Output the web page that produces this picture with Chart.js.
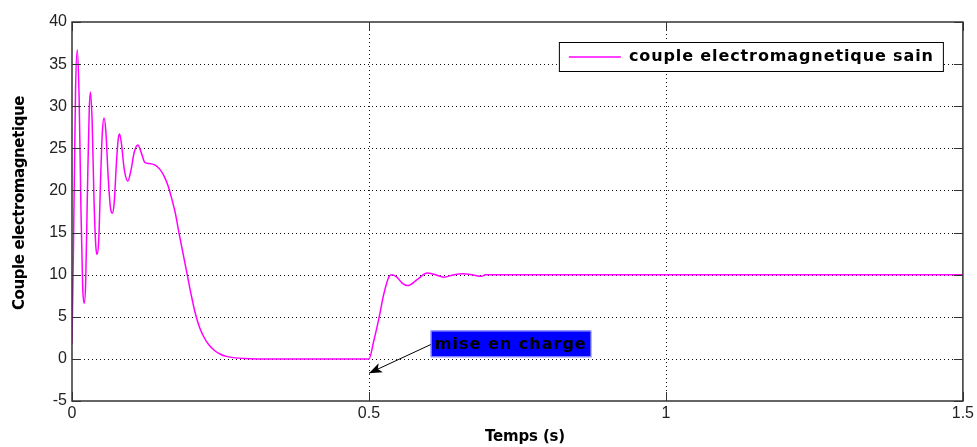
<!DOCTYPE html>
<html>
<head>
<meta charset="utf-8">
<script src="https://cdn.jsdelivr.net/npm/chart.js@4"></script>
<style>
  html, body { margin: 0; padding: 0; background: #fff; }
</style>
</head>
<body>
<canvas id="graficoCouple" width="977" height="447"></canvas>
<script>
// Données
const temps = [
  0, 0.0025, 0.006, 0.0089, 0.012, 0.015, 0.018, 0.0205, 0.023, 0.026, 0.029, 0.031,
  0.034, 0.037, 0.040, 0.042, 0.045, 0.048, 0.051, 0.054, 0.057, 0.061, 0.065, 0.068,
  0.071, 0.075, 0.078, 0.080, 0.083, 0.088, 0.094, 0.099, 0.105, 0.111, 0.117, 0.123,
  0.130, 0.140, 0.148, 0.155, 0.162, 0.168, 0.174, 0.180, 0.187, 0.194, 0.201, 0.208,
  0.215, 0.222, 0.230, 0.240, 0.250, 0.260, 0.275, 0.290, 0.310, 0.400, 0.500,
  0.508, 0.517, 0.525, 0.534, 0.539, 0.547, 0.556, 0.565, 0.581, 0.598, 0.612, 0.626,
  0.643, 0.659, 0.673, 0.690, 0.696, 0.800, 1.000, 1.200, 1.500
];
const couple = [
  1.8, 13.5, 32, 36.7, 31, 18, 8.5, 6.6, 9, 20, 29.5, 31.7,
  28, 19, 13.5, 12.4, 14, 21, 26.8, 28.6, 27, 21.5, 17.8, 17.3,
  18.5, 23.5, 26.2, 26.7, 25.7, 22.5, 21.1, 22.3, 24.6, 25.4, 24.4, 23.3,
  23.2, 23.0, 22.5, 21.7, 20.5, 19, 17.3, 15, 12.5, 10, 7.5, 5.3,
  3.7, 2.6, 1.7, 1.0, 0.55, 0.3, 0.12, 0.04, 0, 0, 0,
  2.1, 4.9, 7.7, 9.8, 10, 9.7, 9.0, 8.7, 9.4, 10.2, 10, 9.7,
  10, 10.1, 10, 9.8, 10, 10, 10, 10, 10
];
const ticksX = [0, 0.5, 1, 1.5];
const ticksY = [-5, 0, 5, 10, 15, 20, 25, 30, 35, 40];
const nomSerie = 'couple electromagnetique sain';
const titreX = 'Temps (s)';
const titreY = 'Couple electromagnetique';
const texteAnnot = 'mise en charge';
const annotPointe = [0.5, -1.7];
const annotDepart = [0.604, 1.7];

const police = '"Liberation Sans", Arial, sans-serif';
const policeGras = '"DejaVu Sans", sans-serif';
const magenta = '#ff00ff';

// texte ajusté pour atteindre une largeur donnée
function texteLarge(ctx, txt, x, y, largeur) {
  ctx.letterSpacing = '0px';
  const w = ctx.measureText(txt).width;
  ctx.letterSpacing = ((largeur - w) / txt.length) + 'px';
  ctx.fillText(txt, x, y);
  ctx.letterSpacing = '0px';
}

const cadreMatlab = {
  id: 'cadreMatlab',
  beforeDatasetsDraw(chart) {
    const { ctx, chartArea: a, scales: { x, y } } = chart;
    ctx.save();
    ctx.strokeStyle = '#111';
    ctx.lineWidth = 1;
    ctx.setLineDash([1, 3]);
    ticksX.forEach(v => {
      const px = Math.round(x.getPixelForValue(v)) + 0.5;
      if (px > a.left + 2 && px < a.right - 2) {
        ctx.beginPath(); ctx.moveTo(px, a.top); ctx.lineTo(px, a.bottom); ctx.stroke();
      }
    });
    ticksY.forEach(v => {
      const py = Math.round(y.getPixelForValue(v)) + 0.5;
      if (py > a.top + 2 && py < a.bottom - 2) {
        ctx.beginPath(); ctx.moveTo(a.left, py); ctx.lineTo(a.right, py); ctx.stroke();
      }
    });
    ctx.restore();
  },
  afterDraw(chart) {
    const { ctx, chartArea: a, scales: { x, y } } = chart;
    ctx.save();
    // cadre et graduations
    ctx.strokeStyle = '#333';
    ctx.lineWidth = 1.5;
    ctx.strokeRect(a.left, a.top, a.right - a.left, a.bottom - a.top);
    ctx.lineWidth = 1;
    const tl = 9;
    ticksX.forEach(v => {
      const px = Math.round(x.getPixelForValue(v)) + 0.5;
      ctx.beginPath();
      ctx.moveTo(px, a.bottom); ctx.lineTo(px, a.bottom - tl);
      ctx.moveTo(px, a.top); ctx.lineTo(px, a.top + tl);
      ctx.stroke();
    });
    ticksY.forEach(v => {
      const py = Math.round(y.getPixelForValue(v)) + 0.5;
      ctx.beginPath();
      ctx.moveTo(a.left, py); ctx.lineTo(a.left + tl, py);
      ctx.moveTo(a.right, py); ctx.lineTo(a.right - tl, py);
      ctx.stroke();
    });

    // titres des axes
    ctx.fillStyle = '#000';
    ctx.font = 'bold 15px ' + policeGras;
    ctx.textAlign = 'left';
    ctx.textBaseline = 'middle';
    texteLarge(ctx, titreX, 485, 437, 80);
    ctx.save();
    ctx.translate(20, 310);
    ctx.rotate(-Math.PI / 2);
    texteLarge(ctx, titreY, 0, 0, 214);
    ctx.restore();

    // légende
    const lx = a.right - 404, ly = a.top + 20, lw = 384, lh = 29;
    ctx.fillStyle = '#fff';
    ctx.fillRect(lx, ly, lw, lh);
    ctx.strokeStyle = '#000';
    ctx.lineWidth = 1;
    ctx.strokeRect(lx + 0.5, ly + 0.5, lw, lh);
    ctx.strokeStyle = magenta;
    ctx.lineWidth = 1.5;
    ctx.beginPath();
    ctx.moveTo(lx + 10, ly + 15); ctx.lineTo(lx + 62, ly + 15);
    ctx.stroke();
    ctx.fillStyle = '#000';
    ctx.font = 'bold 16px ' + policeGras;
    ctx.textAlign = 'left';
    ctx.textBaseline = 'middle';
    texteLarge(ctx, nomSerie, lx + 70, ly + 15, 305);

    // annotation
    const tx = x.getPixelForValue(annotPointe[0]), ty = y.getPixelForValue(annotPointe[1]);
    const dx = x.getPixelForValue(annotDepart[0]), dy = y.getPixelForValue(annotDepart[1]);
    ctx.fillStyle = '#0000ff';
    ctx.fillRect(dx, dy - 14, 160, 26);
    ctx.strokeStyle = '#9999ff';
    ctx.lineWidth = 1;
    ctx.strokeRect(dx + 0.5, dy - 13.5, 160, 26);
    ctx.fillStyle = '#000';
    ctx.font = 'bold 16px ' + policeGras;
    texteLarge(ctx, texteAnnot, dx + 4, dy, 152);
    ctx.strokeStyle = '#000';
    ctx.beginPath();
    ctx.moveTo(dx, dy); ctx.lineTo(tx, ty);
    ctx.stroke();
    const ang = Math.atan2(ty - dy, tx - dx);
    const L = 13, W = 5;
    ctx.beginPath();
    ctx.moveTo(tx, ty);
    ctx.lineTo(tx - L * Math.cos(ang) + W * Math.sin(ang), ty - L * Math.sin(ang) - W * Math.cos(ang));
    ctx.lineTo(tx - L * 0.75 * Math.cos(ang), ty - L * 0.75 * Math.sin(ang));
    ctx.lineTo(tx - L * Math.cos(ang) - W * Math.sin(ang), ty - L * Math.sin(ang) + W * Math.cos(ang));
    ctx.closePath();
    ctx.fill();
    ctx.restore();
  }
};

const ctx = document.getElementById('graficoCouple').getContext('2d');
new Chart(ctx, {
  type: 'line',
  data: {
    datasets: [{
      label: nomSerie,
      data: temps.map((t, i) => ({ x: t, y: couple[i] })),
      borderColor: magenta,
      borderWidth: 1.5,
      pointRadius: 0,
      fill: false,
      cubicInterpolationMode: 'monotone'
    }]
  },
  options: {
    responsive: false,
    animation: false,
    layout: { padding: { top: 22, right: 11, left: 0, bottom: 0 } },
    plugins: { legend: { display: false }, tooltip: { enabled: false } },
    scales: {
      x: {
        type: 'linear',
        min: 0,
        max: 1.5,
        afterBuildTicks: s => { s.ticks = ticksX.map(v => ({ value: v })); },
        afterFit: s => { s.height = 46; },
        grid: { display: false, drawTicks: false },
        border: { display: false },
        ticks: {
          font: { family: police, size: 16 },
          color: '#222',
          padding: 3,
          maxRotation: 0,
          callback: v => String(v)
        }
      },
      y: {
        min: -5,
        max: 40,
        afterBuildTicks: s => { s.ticks = ticksY.map(v => ({ value: v })); },
        afterFit: s => { s.width = 72; },
        grid: { display: false, drawTicks: false },
        border: { display: false },
        ticks: {
          font: { family: police, size: 16 },
          color: '#222',
          padding: 5,
          callback: v => String(v)
        }
      }
    }
  },
  plugins: [cadreMatlab]
});
</script>
</body>
</html>
